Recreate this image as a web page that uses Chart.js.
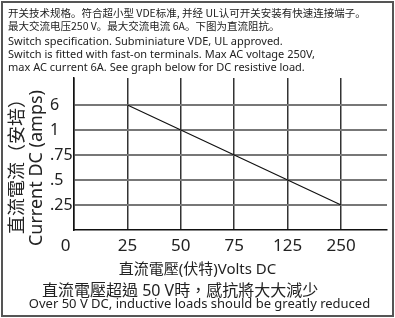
<!DOCTYPE html>
<html>
<head>
<meta charset="utf-8">
<script src="https://cdn.jsdelivr.net/npm/chart.js@4/dist/chart.umd.min.js"></script>
<style>
  html, body { margin: 0; padding: 0; background: #fff; }
  #wrap { position: relative; width: 395px; height: 318px; overflow: hidden;
    font-family: "Noto Sans", "Noto Sans CJK SC", sans-serif; color: #222; }
  #frame { position: absolute; left: 1px; top: 1px; width: 389px; height: 312px; border: 2px solid #555; }
  canvas { position: absolute; left: 0; top: 0; }
  .t { position: absolute; white-space: nowrap; }
  #head { left: 8px; top: 6px; font-size: 11px; line-height: 13px; }
  #head .zh { font-family: "Noto Sans CJK SC", sans-serif; font-size: 10.5px; line-height: 13px; }
  #head .gap { margin-top: 2px; }
  #ytitle { left: 5px; top: 250px; width: 160px; text-align: right; font-size: 18px; line-height: 20px;
    transform: rotate(-90deg); transform-origin: 0 0; }
  #xtitle { left: 0; width: 395px; text-align: center; top: 257px; font-size: 15px;
    font-family: "Noto Sans", "Noto Sans CJK TC", sans-serif; }
  #note1 { left: 42px; top: 277px; font-size: 16px; font-family: "Noto Sans", "Noto Sans CJK TC", sans-serif; }
  #note2 { left: 2px; width: 395px; text-align: center; top: 294px; font-size: 13px; }
</style>
</head>
<body>
<div id="wrap">
  <canvas id="c" width="395" height="318"></canvas>
  <div id="frame"></div>
  <div class="t" id="head">
    <div class="zh">开关技术规格。符合超小型 VDE标准, 并经 UL认可开关安装有快速连接端子。</div>
    <div class="zh">最大交流电压250 V。最大交流电流 6A。下图为直流阻抗。</div>
    <div class="gap">Switch specification. Subminiature VDE, UL approved.</div>
    <div>Switch is fitted with fast-on terminals. Max AC voltage 250V,</div>
    <div>max AC current 6A. See graph below for DC resistive load.</div>
  </div>
  <div class="t" id="ytitle"><div style="font-family:'Noto Sans CJK TC',sans-serif">直流電流（安培）</div><div>Current DC (amps)</div></div>
  <div class="t" id="xtitle">直流電壓(伏特)Volts DC</div>
  <div class="t" id="note1">直流電壓超過 50 V時，感抗將大大減少</div>
  <div class="t" id="note2">Over 50 V DC, inductive loads should be greatly reduced</div>
</div>
<script>
"use strict";

// tick labels (evenly spaced, not to scale)
const VOLT_LABELS = ["0", "25", "50", "75", "125", "250"];
const AMP_LABELS = ["", ".25", ".5", ".75", "1", "6"];

// DC rating curve
const VOLTS = ["25", "50", "75", "125", "250"];
const AMPS = ["6", "1", ".75", ".5", ".25"];

const puntos = VOLTS.map((v, i) => ({ x: VOLT_LABELS.indexOf(v), y: AMP_LABELS.indexOf(AMPS[i]) }));

const FONT = "'Noto Sans', sans-serif";

new Chart(document.getElementById("c"), {
  type: "line",
  data: {
    datasets: [{ data: puntos, borderColor: "#111", borderWidth: 1.2, pointRadius: 0, tension: 0 }],
  },
  options: {
    responsive: false,
    devicePixelRatio: 1,
    animation: false,
    layout: { padding: { left: 50, top: 78, right: 8, bottom: 62 } },
    plugins: { legend: { display: false }, tooltip: { enabled: false } },
    scales: {
      x: {
        type: "linear", min: 0, max: 5.86,
        afterBuildTicks: (s) => { s.ticks = VOLT_LABELS.map((_, i) => ({ value: i })); },
        afterFit: (s) => { s.height = 26; },
        ticks: {
          color: "#222", padding: 6, maxRotation: 0, autoSkip: false,
          font: { family: FONT, size: 17 },
          callback: (v) => (v === 0 ? "0\u2002\u2002" : VOLT_LABELS[v]),
        },
        grid: { color: "#333", lineWidth: 1.5, drawTicks: false },
        border: { color: "#111", width: 1.5 },
      },
      y: {
        type: "linear", min: 0, max: 6.08,
        afterBuildTicks: (s) => { s.ticks = AMP_LABELS.map((_, i) => ({ value: i })).slice(1); },
        afterFit: (s) => { s.width = 24; },
        ticks: {
          color: "#222", padding: 2, crossAlign: "far", autoSkip: false,
          font: { family: FONT, size: 16 },
          callback: (v) => AMP_LABELS[v],
        },
        grid: { color: "#777", lineWidth: 2, drawTicks: false },
        border: { color: "#111", width: 1.5 },
      },
    },
  },
});
</script>
</body>
</html>
